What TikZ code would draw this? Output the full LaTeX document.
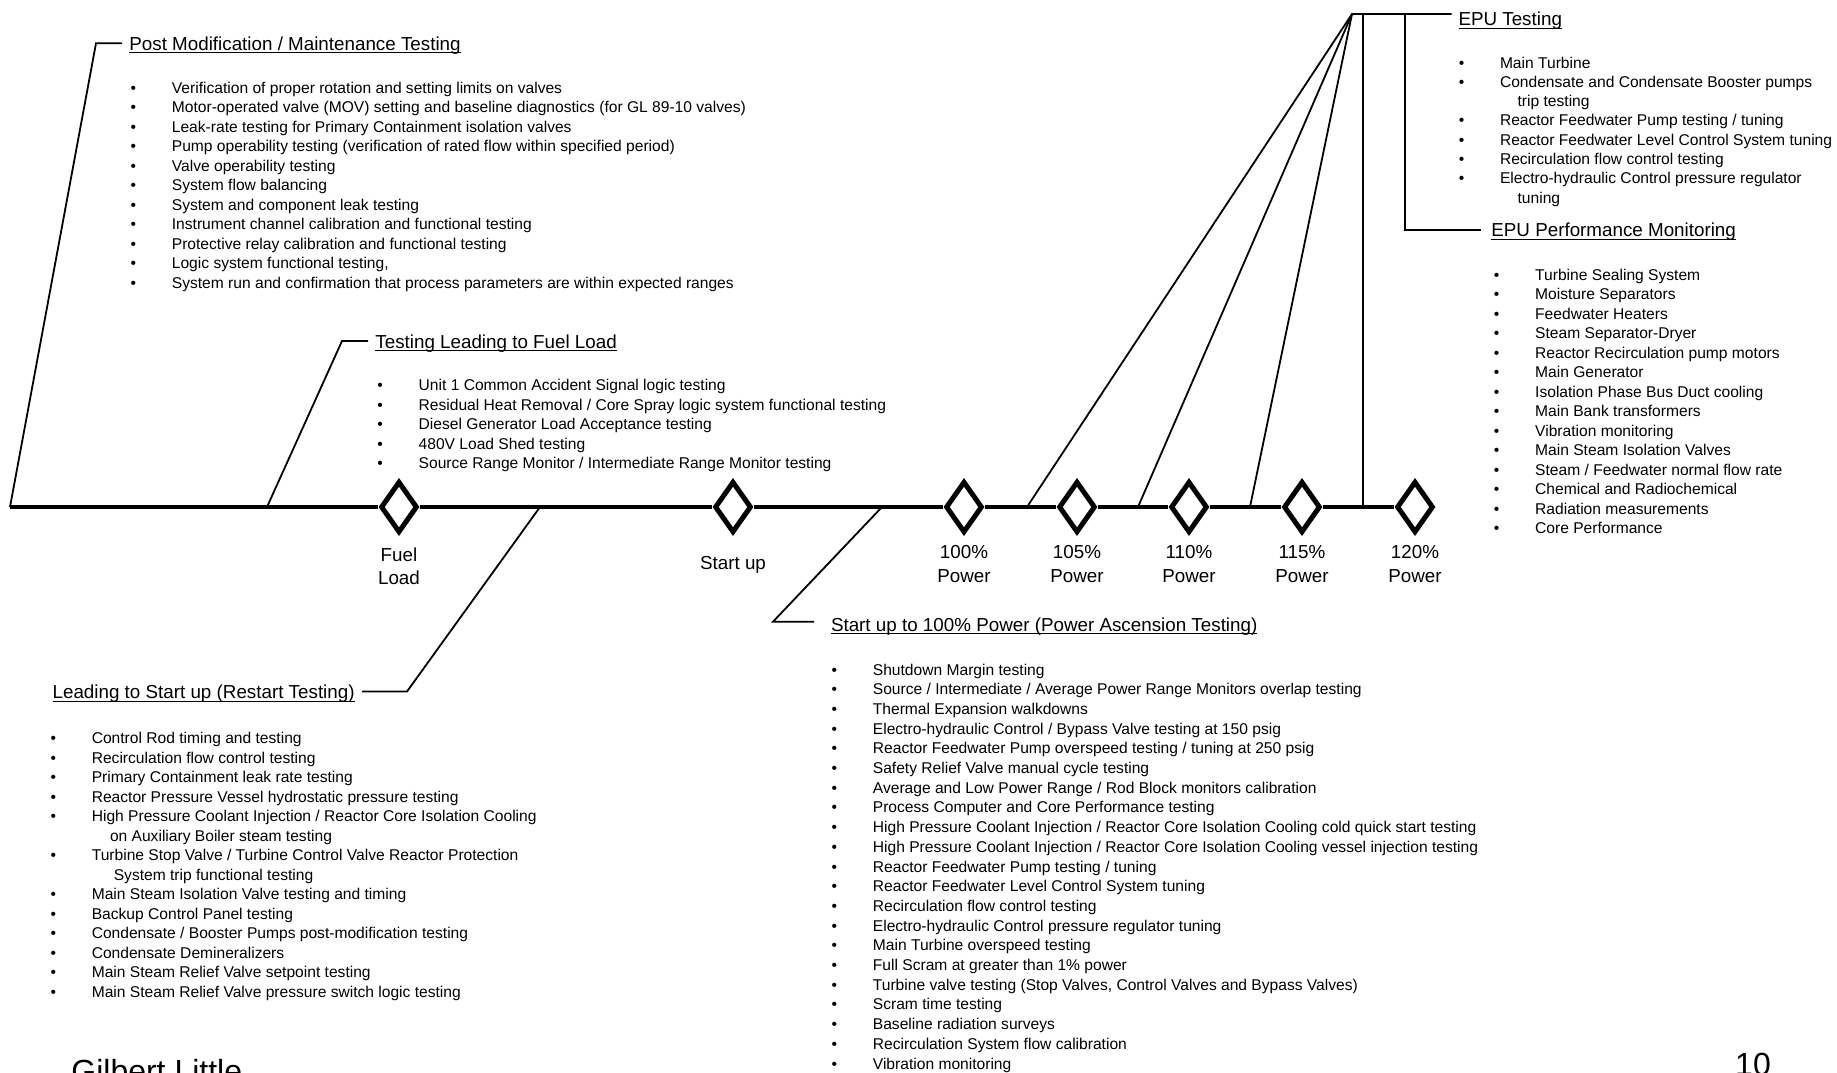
\documentclass[tikz,border=0pt]{standalone}
\usepackage{fontspec}
\setmainfont{Liberation Sans}
\usetikzlibrary{shapes.geometric}
\newsavebox{\ulnbox}
\newcommand{\uln}[1]{\sbox{\ulnbox}{#1}\rlap{\rule[-1.6pt]{\wd\ulnbox}{0.6pt}}\usebox{\ulnbox}}
\newcommand{\bul}{\llap{\textbullet\hspace{17.9pt}}}

\begin{document}
\begin{tikzpicture}[x=0.5pt,y=0.5pt]
\tikzstyle{every node}+=[inner sep=0pt]
\tikzstyle{timeline}=[black, line width=2pt]
\tikzstyle{leader}=[black, line width=0.9pt]
\tikzstyle{milestone}=[diamond, draw=black, line width=2.5pt, minimum width=18.4pt, minimum height=25.7pt]
\tikzstyle{lbl}=[align=center, font=\fontsize{9.4pt}{11.7pt}\selectfont]
\tikzstyle{heading}=[inner xsep=3.5pt, font=\fontsize{9.4pt}{11pt}\selectfont]
\tikzstyle{items}=[align=left, anchor=base west, font=\fontsize{7.8pt}{9.75pt}\selectfont]
\useasboundingbox (0,0) rectangle (1837,-1072);
\node[milestone] (fuel) at (399,-507) {};
\node[milestone] (startup) at (733,-507) {};
\node[milestone] (p100) at (964,-507) {};
\node[milestone] (p105) at (1077,-507) {};
\node[milestone] (p110) at (1189,-507) {};
\node[milestone] (p115) at (1302,-507) {};
\node[milestone] (p120) at (1415,-507) {};
\node[lbl] (fuellbl) at (399,-566) {Fuel\\Load};
\node[lbl] (startuplbl) at (733,-565) {Start up};
\node[lbl] (p100lbl) at (964,-564) {100\%\\Power};
\node[lbl] (p105lbl) at (1077,-564) {105\%\\Power};
\node[lbl] (p110lbl) at (1189,-564) {110\%\\Power};
\node[lbl] (p115lbl) at (1302,-564) {115\%\\Power};
\node[lbl] (p120lbl) at (1415,-564) {120\%\\Power};
\coordinate (tlstart) at (10,-507);
\draw[timeline] (tlstart) -- (fuel) -- (startup) -- (p100) -- (p105) -- (p110) -- (p115) -- (p120);
\node[heading, anchor=base west] (pmtitle) at (122,-50) {\uln{Post Modification / Maintenance Testing}};
\node[heading, anchor=base west] (fltitle) at (368,-348) {\uln{Testing Leading to Fuel Load}};
\node[heading, anchor=base east] (rstitle) at (362,-698.5) {\uln{Leading to Start up (Restart Testing)}};
\node[heading, anchor=base west, inner xsep=8.3pt] (sutitle) at (814,-631) {\uln{Start up to 100\% Power (Power Ascension Testing)}};
\node[heading, anchor=base west, inner xsep=3.2pt] (eputitle) at (1451.7,-25.7) {\uln{EPU Testing}};
\node[heading, anchor=base west, inner xsep=5pt] (perftitle) at (1481,-236.7) {\uln{EPU Performance Monitoring}};
\coordinate (pmknee) at (96,-43.3);
\draw[leader] (tlstart) -- (pmknee) -- (pmknee -| pmtitle.west);
\coordinate (flfoot) at (267,-507);
\coordinate (flknee) at (342,-341);
\draw[leader] (flfoot) -- (flknee) -- (flknee -| fltitle.west);
\coordinate (rsfoot) at (540,-507);
\coordinate (rsknee) at (407,-691.5);
\draw[leader] (rsfoot) -- (rsknee) -- (rsknee -| rstitle.east);
\coordinate (sufoot) at (882,-507);
\coordinate (suknee) at (773,-621.7);
\draw[leader] (sufoot) -- (suknee) -- (suknee -| sutitle.west);
\coordinate (epuapex) at (1352,-14);
\coordinate (epufoot100) at (1027,-507);
\coordinate (epufoot105) at (1138,-507);
\coordinate (epufoot110) at (1250,-507);
\coordinate (epufoot115) at (1363,-507);
\coordinate (perftop) at (1405,-14);
\coordinate (perfknee) at (1405,-230);
\draw[leader] (epufoot100) -- (epuapex) -- (epuapex -| eputitle.west);
\draw[leader] (epufoot105) -- (epuapex);
\draw[leader] (epufoot110) -- (epuapex);
\draw[leader] (epufoot115) -- (epufoot115 |- epuapex);
\draw[leader] (perftop) -- (perfknee) -- (perfknee -| perftitle.west);
\node[items] (pmlist) at (171.5,-288.3) {\bul Verification of proper rotation and setting limits on valves\\
\bul Motor-operated valve (MOV) setting and baseline diagnostics (for GL 89-10 valves)\\
\bul Leak-rate testing for Primary Containment isolation valves\\
\bul Pump operability testing (verification of rated flow within specified period)\\
\bul Valve operability testing\\
\bul System flow balancing\\
\bul System and component leak testing\\
\bul Instrument channel calibration and functional testing\\
\bul Protective relay calibration and functional testing\\
\bul Logic system functional testing,\\
\bul System run and confirmation that process parameters are within expected ranges};
\node[items] (fllist) at (418.3,-468.5) {\bul Unit 1 Common Accident Signal logic testing\\
\bul Residual Heat Removal / Core Spray logic system functional testing\\
\bul Diesel Generator Load Acceptance testing\\
\bul 480V Load Shed testing\\
\bul Source Range Monitor / Intermediate Range Monitor testing};
\node[items] (rslist) at (91.4,-997) {\bul Control Rod timing and testing\\
\bul Recirculation flow control testing\\
\bul Primary Containment leak rate testing\\
\bul Reactor Pressure Vessel hydrostatic pressure testing\\
\bul High Pressure Coolant Injection / Reactor Core Isolation Cooling\\
\hspace*{9.1pt}on Auxiliary Boiler steam testing\\
\bul Turbine Stop Valve / Turbine Control Valve Reactor Protection\\
\hspace*{11pt}System trip functional testing\\
\bul Main Steam Isolation Valve testing and timing\\
\bul Backup Control Panel testing\\
\bul Condensate / Booster Pumps post-modification testing\\
\bul Condensate Demineralizers\\
\bul Main Steam Relief Valve setpoint testing\\
\bul Main Steam Relief Valve pressure switch logic testing};
\node[items, font=\fontsize{7.8pt}{9.85pt}\selectfont] (sulist) at (872.5,-1069) {\bul Shutdown Margin testing\\
\bul Source / Intermediate / Average Power Range Monitors overlap testing\\
\bul Thermal Expansion walkdowns\\
\bul Electro-hydraulic Control / Bypass Valve testing at 150 psig\\
\bul Reactor Feedwater Pump overspeed testing / tuning at 250 psig\\
\bul Safety Relief Valve manual cycle testing\\
\bul Average and Low Power Range / Rod Block monitors calibration\\
\bul Process Computer and Core Performance testing\\
\bul High Pressure Coolant Injection / Reactor Core Isolation Cooling cold quick start testing\\
\bul High Pressure Coolant Injection / Reactor Core Isolation Cooling vessel injection testing\\
\bul Reactor Feedwater Pump testing / tuning\\
\bul Reactor Feedwater Level Control System tuning\\
\bul Recirculation flow control testing\\
\bul Electro-hydraulic Control pressure regulator tuning\\
\bul Main Turbine overspeed testing\\
\bul Full Scram at greater than 1\% power\\
\bul Turbine valve testing (Stop Valves, Control Valves and Bypass Valves)\\
\bul Scram time testing\\
\bul Baseline radiation surveys\\
\bul Recirculation System flow calibration\\
\bul Vibration monitoring};
\node[items, font=\fontsize{7.8pt}{9.65pt}\selectfont] (epulist) at (1499.6,-203.1) {\bul Main Turbine\\
\bul Condensate and Condensate Booster pumps\\
\hspace*{8.8pt}trip testing\\
\bul Reactor Feedwater Pump testing / tuning\\
\bul Reactor Feedwater Level Control System tuning\\
\bul Recirculation flow control testing\\
\bul Electro-hydraulic Control pressure regulator\\
\hspace*{8.8pt}tuning};
\node[items] (perflist) at (1534.8,-533.5) {\bul Turbine Sealing System\\
\bul Moisture Separators\\
\bul Feedwater Heaters\\
\bul Steam Separator-Dryer\\
\bul Reactor Recirculation pump motors\\
\bul Main Generator\\
\bul Isolation Phase Bus Duct cooling\\
\bul Main Bank transformers\\
\bul Vibration monitoring\\
\bul Main Steam Isolation Valves\\
\bul Steam / Feedwater normal flow rate\\
\bul Chemical and Radiochemical\\
\bul Radiation measurements\\
\bul Core Performance};
\node[anchor=base west, font=\fontsize{16pt}{18pt}\selectfont] (author) at (71,-1082) {Gilbert Little};
\node[anchor=base, font=\fontsize{16pt}{18pt}\selectfont] (pagenum) at (1753,-1075.5) {10};
\end{tikzpicture}
\end{document}
